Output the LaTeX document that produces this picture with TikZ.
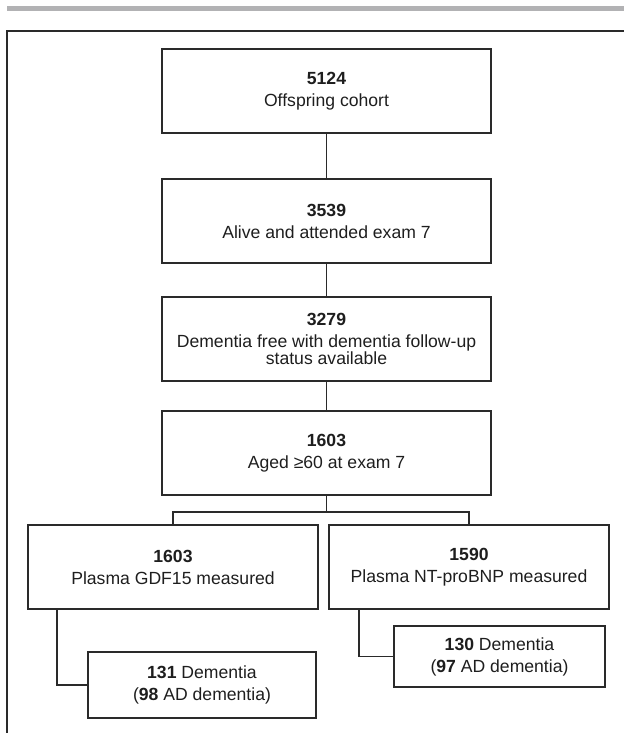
\documentclass[tikz,border=0pt]{standalone}
\usepackage{fontspec}
\setmainfont{Liberation Sans}
\usetikzlibrary{calc}
\definecolor{linecol}{HTML}{2A2A2A}
\definecolor{txtcol}{HTML}{1E1E1E}
\definecolor{barcol}{HTML}{B2B2B4}
\tikzset{
  fbox/.style={draw=linecol, line width=1.3pt, inner sep=0pt, outer sep=0pt,
    align=center, text=txtcol, font=\fontsize{17.6}{22}\selectfont},
  conn/.style={draw=linecol, line width=1.4pt}
}
\begin{document}
\begin{tikzpicture}[x=1pt,y=-1pt]
\useasboundingbox (0,0) rectangle (624,733);
% top grey bar
\fill[barcol] (7,6) rectangle (624,11);
% outer frame (left and top edges)
\draw[draw=linecol, line width=1.8pt] (7,733) -- (7,31) -- (624,31);
% boxes
\node[fbox, minimum width=329pt, minimum height=84pt] (b1) at (326.5,91) {\textbf{5124}\\Offspring cohort};
\node[fbox, minimum width=329pt, minimum height=84pt] (b2) at (326.5,221) {\textbf{3539}\\Alive and attended exam 7};
\node[fbox, minimum width=329pt, minimum height=84pt] (b3) at (326.5,339) {\textbf{3279}\\Dementia free with dementia follow-up\\[-5pt]status available};
\node[fbox, minimum width=329pt, minimum height=84pt] (b4) at (326.5,453) {\textbf{1603}\\Aged ≥60 at exam 7};
\node[fbox, minimum width=290pt, minimum height=84pt] (b5) at (173,567) {\textbf{1603}\\Plasma GDF15 measured};
\node[fbox, minimum width=280pt, minimum height=84pt] (b6) at (469,567) {\textbf{1590}\\Plasma NT-proBNP measured};
\node[fbox, minimum width=228pt, minimum height=66pt] (b7) at (202,685) {\textbf{131} Dementia\\(\textbf{98} AD dementia)};
\node[fbox, minimum width=211pt, minimum height=61pt] (b8) at (499.5,656.5) {\textbf{130} Dementia\\(\textbf{97} AD dementia)};
% connectors
\draw[conn] (b1) -- (b2);
\draw[conn] (b2) -- (b3);
\draw[conn] (b3) -- (b4);
\coordinate (j) at ($(b4.south)+(0,17)$);
\draw[conn] (b4.south) -- (j);
\draw[conn] (b5.north) |- (j) -| (b6.north);
\draw[conn] ($(b5.south west)+(29,0)$) |- (b7.west);
\draw[conn] ($(b6.south west)+(30,0)$) |- (b8.west);
\end{tikzpicture}
\end{document}
